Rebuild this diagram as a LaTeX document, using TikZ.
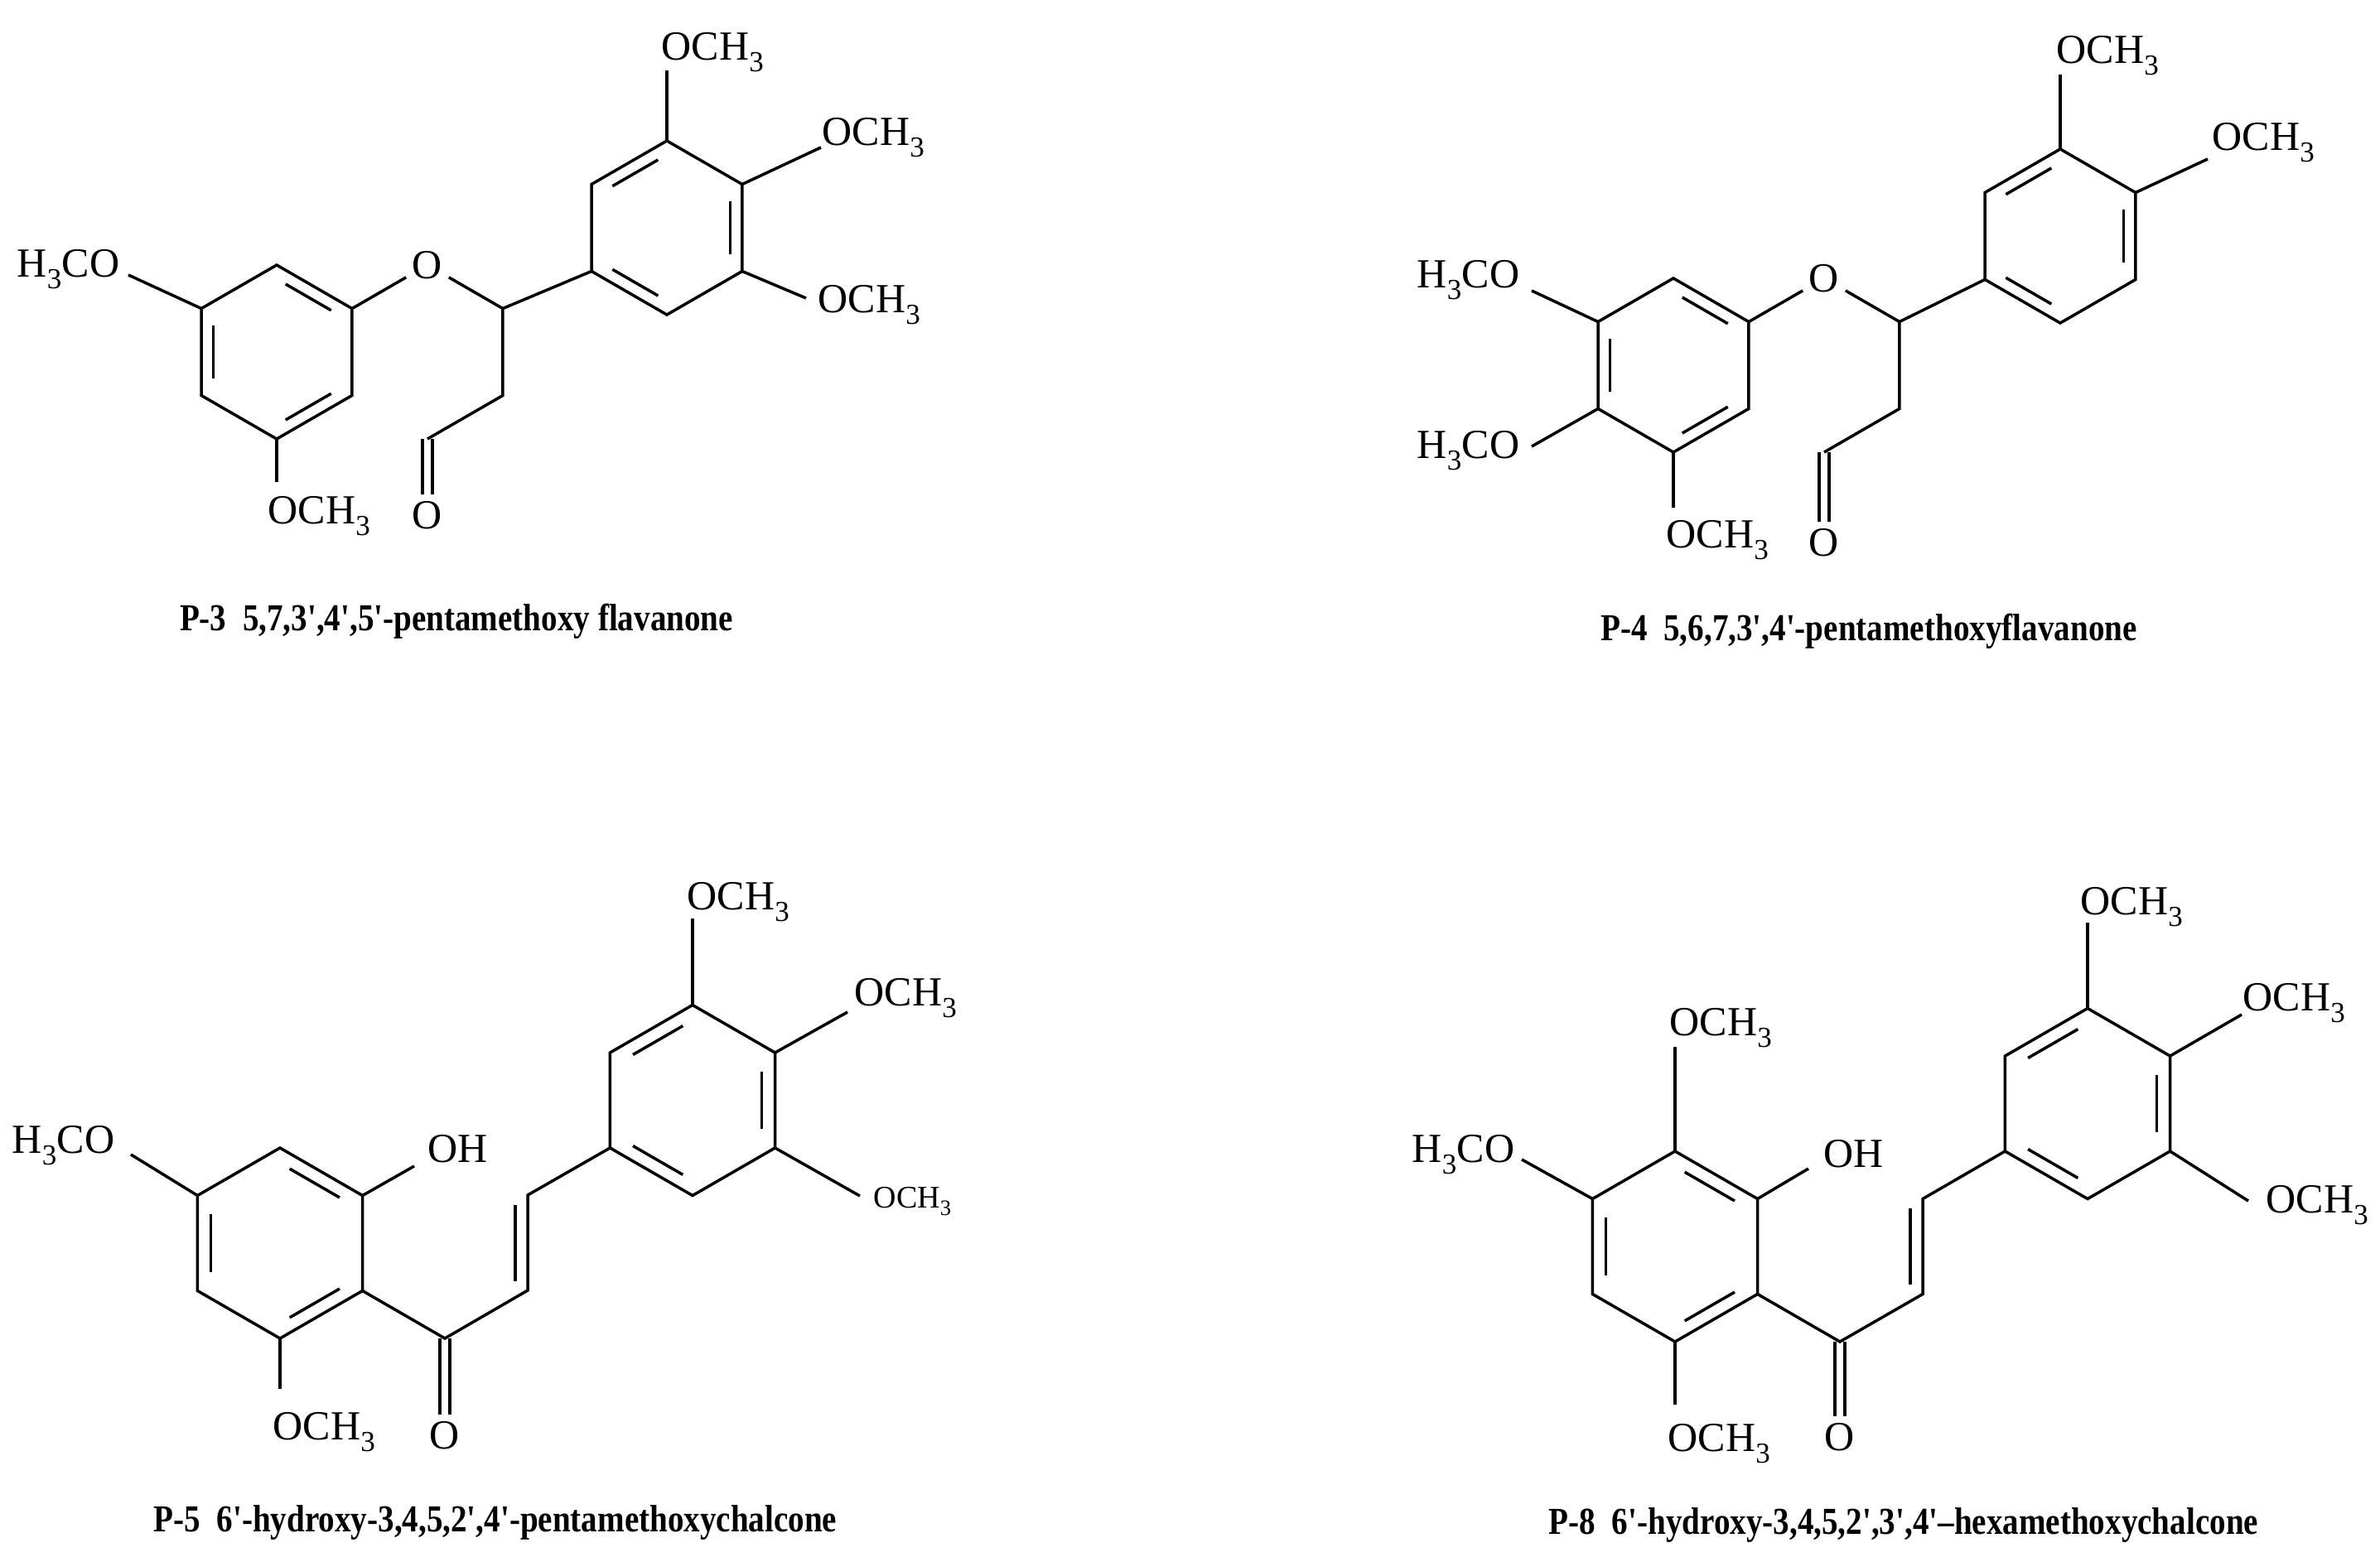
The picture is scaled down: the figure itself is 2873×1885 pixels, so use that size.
\documentclass[tikz,border=0pt]{standalone}
\usepackage{fontspec}
\usepackage{graphicx}
\setmainfont{Liberation Serif}
\usetikzlibrary{calc}
\newcommand\ap{\textquotesingle}
\newcommand\hexr[4]{\coordinate (#1c) at (#2,#3);
\coordinate (#1t) at (#2,#3-#4); \coordinate (#1ur) at (#2+0.866*#4,#3-0.5*#4);
\coordinate (#1lr) at (#2+0.866*#4,#3+0.5*#4); \coordinate (#1b) at (#2,#3+#4);
\coordinate (#1ll) at (#2-0.866*#4,#3+0.5*#4); \coordinate (#1ul) at (#2-0.866*#4,#3-0.5*#4);}
\newcommand\ring[1]{\draw (#1t)--(#1ur)--(#1lr)--(#1b)--(#1ll)--(#1ul)--cycle;}
\newcommand\inr[3]{\draw ($(#1)!0.14!(#2)!0.16!(#3)$) -- ($(#2)!0.14!(#1)!0.16!(#3)$);}
\tikzset{
 lab/.style={font=\fontsize{50}{50}\selectfont, inner sep=0pt},
 slab/.style={font=\fontsize{38}{38}\selectfont, inner sep=0pt},
 atom/.style={font=\fontsize{50}{50}\selectfont, inner sep=6pt},
 captxt/.style={font=\bfseries\fontsize{46}{46}\selectfont, inner sep=0pt},
}
\begin{document}
\begin{tikzpicture}[x=1pt,y=-1pt,line width=3.5pt,line join=miter]
\useasboundingbox (0,0) rectangle (2873,1885);
\fill[white] (0,0) rectangle (2873,1885);
% ================= P-3
\hexr{a}{334}{425}{105}\hexr{c}{516}{425}{105}\hexr{b}{805}{275}{105}
\ring{a}\ring{b}
\node[atom] (o1) at (ct) {O};
\draw (cul)--(o1)--(cur)--(clr)--(cb);
\draw (cur)--(bll);
\inr{at}{aur}{ac}\inr{aul}{all}{ac}\inr{ab}{alr}{ac}
\inr{bul}{bt}{bc}\inr{bur}{blr}{bc}\inr{bll}{bb}{bc}
\node[atom] (oc) at (516,622) {O};
\draw ([xshift=-6pt]cb)--([xshift=-6pt]oc.north) ([xshift=6pt]cb)--([xshift=6pt]oc.north);
\coordinate (e1) at (155,332); \draw (aul)--(e1);
\node[lab,anchor=base east] (l1) at (146,334) {H\textsubscript{3}CO};
\coordinate (e2) at (334,582); \draw (ab)--(e2);
\node[lab,anchor=base west] (l2) at (322,632) {OCH\textsubscript{3}};
\coordinate (e3) at (805,85); \draw (bt)--(e3);
\node[lab,anchor=base west] (l3) at (797,72) {OCH\textsubscript{3}};
\coordinate (e4) at (991,178); \draw (bur)--(e4);
\node[lab,anchor=base west] (l4) at (991,175) {OCH\textsubscript{3}};
\coordinate (e5) at (973,360); \draw (blr)--(e5);
\node[lab,anchor=base west] (l5) at (986,377) {OCH\textsubscript{3}};
\node[captxt] (t1) at (551,750) {\scalebox{0.85}[1]{P-3\ \ 5,7,3\ap,4\ap,5\ap-pentamethoxy flavanone}};
% ================= P-4
\hexr{d}{2020}{441}{105}\hexr{f}{2202}{441}{105}\hexr{g}{2487}{285}{105}
\ring{d}\ring{g}
\node[atom] (o2) at (ft) {O};
\draw (ful)--(o2)--(fur)--(flr)--(fb);
\draw (fur)--(gll);
\inr{dt}{dur}{dc}\inr{dul}{dll}{dc}\inr{db}{dlr}{dc}
\inr{gul}{gt}{gc}\inr{gur}{glr}{gc}\inr{gll}{gb}{gc}
\node[atom] (oc2) at (2202,655) {O};
\draw ([xshift=-6pt]fb)--([xshift=-6pt]oc2.north) ([xshift=6pt]fb)--([xshift=6pt]oc2.north);
\coordinate (e6) at (1849,351); \draw (dul)--(e6);
\node[lab,anchor=base east] (l6) at (1836,347) {H\textsubscript{3}CO};
\coordinate (e7) at (1849,539); \draw (dll)--(e7);
\node[lab,anchor=base east] (l7) at (1836,553) {H\textsubscript{3}CO};
\coordinate (e8) at (2020,613); \draw (db)--(e8);
\node[lab,anchor=base west] (l8) at (2010,661) {OCH\textsubscript{3}};
\coordinate (e9) at (2487,90); \draw (gt)--(e9);
\node[lab,anchor=base west] (l9) at (2481,76) {OCH\textsubscript{3}};
\coordinate (e10) at (2665,192); \draw (gur)--(e10);
\node[lab,anchor=base west] (l10) at (2669,181) {OCH\textsubscript{3}};
\node[captxt] (t2) at (2256,762) {\scalebox{0.85}[1]{P-4\ \ 5,6,7,3\ap,4\ap-pentamethoxyflavanone}};
% ================= P-5
\hexr{h}{338}{1501}{115}\hexr{k}{836}{1328.5}{115}
\ring{h}\ring{k}
\coordinate (co1) at (537,1616); \coordinate (al1) at (637,1558); \coordinate (be1) at (637,1443);
\draw (hlr)--(co1)--(al1)--(be1)--(kll);
\draw ($(al1)!0.1!(be1)+(-15,0)$)--($(be1)!0.1!(al1)+(-15,0)$);
\inr{ht}{hur}{hc}\inr{hul}{hll}{hc}\inr{hb}{hlr}{hc}
\inr{kul}{kt}{kc}\inr{kur}{klr}{kc}\inr{kll}{kb}{kc}
\node[atom] (oc3) at (537,1733) {O};
\draw ([xshift=-6pt]co1)--([xshift=-6pt]oc3.north) ([xshift=6pt]co1)--([xshift=6pt]oc3.north);
\coordinate (e11) at (500,1408); \draw (hur)--(e11);
\node[lab,anchor=base west] (l11) at (515,1403) {OH};
\coordinate (e12) at (158,1394); \draw (hul)--(e12);
\node[lab,anchor=base east] (l12) at (140,1392) {H\textsubscript{3}CO};
\coordinate (e13) at (338,1677); \draw (hb)--(e13);
\node[lab,anchor=base west] (l13) at (328,1738) {OCH\textsubscript{3}};
\coordinate (e14) at (836,1109); \draw (kt)--(e14);
\node[lab,anchor=base west] (l14) at (828,1098) {OCH\textsubscript{3}};
\coordinate (e15) at (1023,1222); \draw (kur)--(e15);
\node[lab,anchor=base west] (l15) at (1030,1214) {OCH\textsubscript{3}};
\coordinate (e16) at (1038,1444); \draw (klr)--(e16);
\node[slab,anchor=base west] (l16) at (1053,1458) {OCH\textsubscript{3}};
\node[captxt] (t3) at (598,1838) {\scalebox{0.85}[1]{P-5\ \ 6\ap-hydroxy-3,4,5,2\ap,4\ap-pentamethoxychalcone}};
% ================= P-8
\hexr{m}{2022}{1505}{115}\hexr{n}{2520}{1332.5}{115}
\ring{m}\ring{n}
\coordinate (co2) at (2221,1620); \coordinate (al2) at (2321,1562.5); \coordinate (be2) at (2321,1447.5);
\draw (mlr)--(co2)--(al2)--(be2)--(nll);
\draw ($(al2)!0.1!(be2)+(-15,0)$)--($(be2)!0.1!(al2)+(-15,0)$);
\inr{mt}{mur}{mc}\inr{mul}{mll}{mc}\inr{mb}{mlr}{mc}
\inr{nul}{nt}{nc}\inr{nur}{nlr}{nc}\inr{nll}{nb}{nc}
\node[atom] (oc4) at (2221,1735) {O};
\draw ([xshift=-6pt]co2)--([xshift=-6pt]oc4.north) ([xshift=6pt]co2)--([xshift=6pt]oc4.north);
\coordinate (e17) at (2022,1264); \draw (mt)--(e17);
\node[lab,anchor=base west] (l17) at (2014,1250) {OCH\textsubscript{3}};
\coordinate (e18) at (1837,1400); \draw (mul)--(e18);
\node[lab,anchor=base east] (l18) at (1830,1403) {H\textsubscript{3}CO};
\coordinate (e19) at (2183,1411); \draw (mur)--(e19);
\node[lab,anchor=base west] (l19) at (2200,1409) {OH};
\coordinate (e20) at (2022,1696); \draw (mb)--(e20);
\node[lab,anchor=base west] (l20) at (2012,1752) {OCH\textsubscript{3}};
\coordinate (e21) at (2520,1114); \draw (nt)--(e21);
\node[lab,anchor=base west] (l21) at (2510,1104) {OCH\textsubscript{3}};
\coordinate (e22) at (2706,1225); \draw (nur)--(e22);
\node[lab,anchor=base west] (l22) at (2706,1220) {OCH\textsubscript{3}};
\coordinate (e23) at (2714,1450); \draw (nlr)--(e23);
\node[lab,anchor=base west] (l23) at (2734,1464) {OCH\textsubscript{3}};
\node[captxt] (t4) at (2298,1841) {\scalebox{0.85}[1]{P-8\ \ 6\ap-hydroxy-3,4,5,2\ap,3\ap,4\ap--hexamethoxychalcone}};
\end{tikzpicture}
\end{document}
